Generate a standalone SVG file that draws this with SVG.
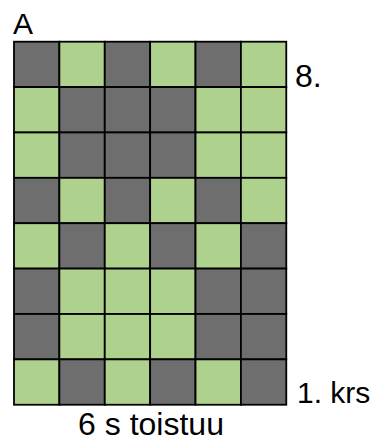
<svg xmlns="http://www.w3.org/2000/svg" width="376" height="442" viewBox="0 0 376 442">
<style>
.d{fill:#6e6e6e}
.g{fill:#aed18d}
.d,.g{stroke:#000;stroke-width:1.8}
text{font-family:"Liberation Sans",Arial,sans-serif;font-size:30px;fill:#000}
</style>
<rect width="376" height="442" fill="#fff"/>
<g id="grid">
<g id="row8">
<rect class="d" x="14" y="41.7" width="45.38" height="45.38"/>
<rect class="g" x="59.38" y="41.7" width="45.38" height="45.38"/>
<rect class="d" x="104.76" y="41.7" width="45.38" height="45.38"/>
<rect class="g" x="150.14" y="41.7" width="45.38" height="45.38"/>
<rect class="d" x="195.52" y="41.7" width="45.38" height="45.38"/>
<rect class="g" x="240.9" y="41.7" width="45.38" height="45.38"/>
</g>
<g id="row7">
<rect class="g" x="14" y="87.08" width="45.38" height="45.38"/>
<rect class="d" x="59.38" y="87.08" width="45.38" height="45.38"/>
<rect class="d" x="104.76" y="87.08" width="45.38" height="45.38"/>
<rect class="d" x="150.14" y="87.08" width="45.38" height="45.38"/>
<rect class="g" x="195.52" y="87.08" width="45.38" height="45.38"/>
<rect class="g" x="240.9" y="87.08" width="45.38" height="45.38"/>
</g>
<g id="row6">
<rect class="g" x="14" y="132.46" width="45.38" height="45.38"/>
<rect class="d" x="59.38" y="132.46" width="45.38" height="45.38"/>
<rect class="d" x="104.76" y="132.46" width="45.38" height="45.38"/>
<rect class="d" x="150.14" y="132.46" width="45.38" height="45.38"/>
<rect class="g" x="195.52" y="132.46" width="45.38" height="45.38"/>
<rect class="g" x="240.9" y="132.46" width="45.38" height="45.38"/>
</g>
<g id="row5">
<rect class="d" x="14" y="177.84" width="45.38" height="45.38"/>
<rect class="g" x="59.38" y="177.84" width="45.38" height="45.38"/>
<rect class="d" x="104.76" y="177.84" width="45.38" height="45.38"/>
<rect class="g" x="150.14" y="177.84" width="45.38" height="45.38"/>
<rect class="d" x="195.52" y="177.84" width="45.38" height="45.38"/>
<rect class="g" x="240.9" y="177.84" width="45.38" height="45.38"/>
</g>
<g id="row4">
<rect class="g" x="14" y="223.22" width="45.38" height="45.38"/>
<rect class="d" x="59.38" y="223.22" width="45.38" height="45.38"/>
<rect class="g" x="104.76" y="223.22" width="45.38" height="45.38"/>
<rect class="d" x="150.14" y="223.22" width="45.38" height="45.38"/>
<rect class="g" x="195.52" y="223.22" width="45.38" height="45.38"/>
<rect class="d" x="240.9" y="223.22" width="45.38" height="45.38"/>
</g>
<g id="row3">
<rect class="d" x="14" y="268.6" width="45.38" height="45.38"/>
<rect class="g" x="59.38" y="268.6" width="45.38" height="45.38"/>
<rect class="g" x="104.76" y="268.6" width="45.38" height="45.38"/>
<rect class="g" x="150.14" y="268.6" width="45.38" height="45.38"/>
<rect class="d" x="195.52" y="268.6" width="45.38" height="45.38"/>
<rect class="d" x="240.9" y="268.6" width="45.38" height="45.38"/>
</g>
<g id="row2">
<rect class="d" x="14" y="313.98" width="45.38" height="45.38"/>
<rect class="g" x="59.38" y="313.98" width="45.38" height="45.38"/>
<rect class="g" x="104.76" y="313.98" width="45.38" height="45.38"/>
<rect class="g" x="150.14" y="313.98" width="45.38" height="45.38"/>
<rect class="d" x="195.52" y="313.98" width="45.38" height="45.38"/>
<rect class="d" x="240.9" y="313.98" width="45.38" height="45.38"/>
</g>
<g id="row1">
<rect class="g" x="14" y="359.36" width="45.38" height="45.38"/>
<rect class="d" x="59.38" y="359.36" width="45.38" height="45.38"/>
<rect class="g" x="104.76" y="359.36" width="45.38" height="45.38"/>
<rect class="d" x="150.14" y="359.36" width="45.38" height="45.38"/>
<rect class="g" x="195.52" y="359.36" width="45.38" height="45.38"/>
<rect class="d" x="240.9" y="359.36" width="45.38" height="45.38"/>
</g>
</g>
<g id="labels">
<text x="13" y="34.3">A</text>
<text x="295" y="87.3" style="font-size:32px">8.</text>
<text x="297" y="402.7">1. krs</text>
<text x="151" y="435" text-anchor="middle" style="font-size:32px">6 s toistuu</text>
</g>
</svg>
